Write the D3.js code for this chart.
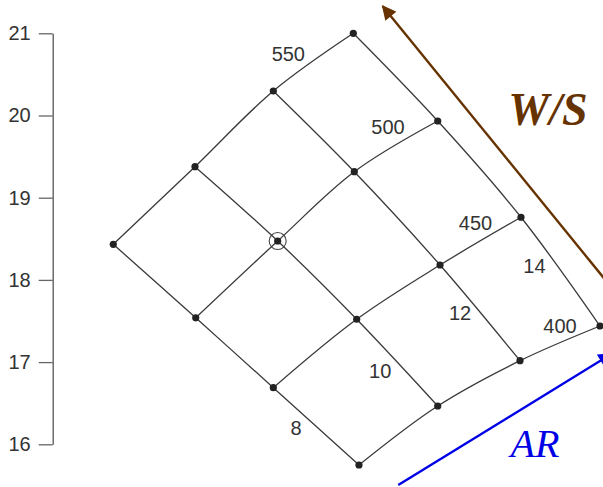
<!DOCTYPE html>
<html>
<head>
<meta charset="utf-8">
<script src="https://cdn.jsdelivr.net/npm/d3@7"></script>
<style>
  html, body { margin: 0; padding: 0; background: #fff; }
  svg { display: block; }
</style>
</head>
<body>
<svg id="chart" width="603" height="487"></svg>
<script>
// Carpet plot: wing loading W/S against aspect ratio AR
const arValues = [8, 10, 12, 14];
const wsValues = [550, 500, 450, 400];

// Ordinate value of each node, one row per W/S, one column per AR
const yValues = [
  [18.433, 19.377, 20.298, 21.000],   // W/S 550
  [17.539, 18.473, 19.316, 19.933],   // W/S 500
  [16.689, 17.521, 18.181, 18.762],   // W/S 450
  [15.748, 16.466, 17.017, 17.439]    // W/S 400
];
// Cheater (staggered) abscissa of each node
const xValues = [
  [0.737, 1.731, 2.684, 3.657],
  [1.740, 2.737, 3.669, 4.684],
  [2.684, 3.698, 4.712, 5.697],
  [3.726, 4.684, 5.685, 6.658]
];
const yTicks = [16, 17, 18, 19, 20, 21];
// Design point marked with a ring
const designPoint = { ws: 500, ar: 10 };

const svg = d3.select("#chart");

const y = d3.scaleLinear().domain([16, 21]).range([444.3, 33.3]);
const x = d3.scaleLinear().domain([0, 7]).range([52.7, 52.7 + 7 * 82.2]);

// Left axis
const yAxis = d3.axisLeft(y).tickValues(yTicks).tickFormat(d3.format("d"))
  .tickSize(14).tickPadding(8).tickSizeOuter(0);
const gAxis = svg.append("g").attr("transform", `translate(${x(0)},0)`).call(yAxis);
gAxis.select(".domain").attr("stroke", "#555").attr("stroke-width", 1.3);
gAxis.selectAll(".tick line").attr("stroke", "#666").attr("stroke-width", 1.3);
gAxis.selectAll(".tick text")
  .attr("fill", "#333")
  .style("font-family", "'Liberation Sans', Arial, sans-serif")
  .style("font-size", "20px");

// Nodes
const nodes = [];
wsValues.forEach((ws, i) => arValues.forEach((ar, j) => {
  nodes.push({ ws, ar, i, j, x: xValues[i][j], y: yValues[i][j] });
}));

const line = d3.line()
  .x(d => x(d.x)).y(d => y(d.y))
  .curve(d3.curveCatmullRom.alpha(0.5));

const gGrid = svg.append("g").attr("fill", "none").attr("stroke", "#3a3a3a").attr("stroke-width", 1.3);

// Constant W/S lines (AR varies along them)
wsValues.forEach((ws, i) => {
  gGrid.append("path").attr("d", line(nodes.filter(n => n.i === i)));
});
// Constant AR lines (W/S varies along them)
arValues.forEach((ar, j) => {
  gGrid.append("path").attr("d", line(nodes.filter(n => n.j === j)));
});

svg.append("g").selectAll("circle.node").data(nodes).join("circle")
  .attr("class", "node")
  .attr("cx", d => x(d.x)).attr("cy", d => y(d.y))
  .attr("r", 3.6).attr("fill", "#222");

const dp = nodes.find(n => n.ws === designPoint.ws && n.ar === designPoint.ar);
svg.append("circle")
  .attr("cx", x(dp.x)).attr("cy", y(dp.y)).attr("r", 8.5)
  .attr("fill", "none").attr("stroke", "#444").attr("stroke-width", 1.1);

// Line labels, placed beside the last segment of each line
const labelFont = "'Liberation Sans', Arial, sans-serif";
const wsLabelOffset = [[-25, -8], [-8, -19], [-5, -18], [0, -17]];
const arLabelOffset = [[-20, 2], [-17, 8], [-20, 0], [-26, -6]];

function segMid(a, b) {
  return [(x(a.x) + x(b.x)) / 2, (y(a.y) + y(b.y)) / 2];
}
const gLab = svg.append("g")
  .style("font-family", labelFont).style("font-size", "20px")
  .attr("fill", "#333").attr("text-anchor", "middle");

wsValues.forEach((ws, i) => {
  const row = nodes.filter(n => n.i === i);
  const [mx, my] = segMid(row[2], row[3]);
  gLab.append("text")
    .attr("x", mx + wsLabelOffset[i][0]).attr("y", my + wsLabelOffset[i][1])
    .attr("dy", "0.35em").text(ws);
});
arValues.forEach((ar, j) => {
  const col = nodes.filter(n => n.j === j);
  const [mx, my] = segMid(col[2], col[3]);
  gLab.append("text")
    .attr("x", mx + arLabelOffset[j][0]).attr("y", my + arLabelOffset[j][1])
    .attr("dy", "0.35em").text(ar);
});

// Direction arrows
const defs = svg.append("defs");
function marker(id, color) {
  defs.append("marker")
    .attr("id", id).attr("viewBox", "0 0 10 10")
    .attr("refX", 9).attr("refY", 5)
    .attr("markerWidth", 6.5).attr("markerHeight", 6)
    .attr("markerUnits", "strokeWidth")
    .attr("orient", "auto")
    .append("path").attr("d", "M0,0 L10,5 L0,10 Z").attr("fill", color);
}
const wsColor = "#663300", arColor = "#0000e6";
marker("arrWS", wsColor);
marker("arrAR", arColor);

svg.append("line")
  .attr("x1", x(6.78)).attr("y1", y(17.93))
  .attr("x2", x(4.015)).attr("y2", y(21.33))
  .attr("stroke", wsColor).attr("stroke-width", 2.4)
  .attr("marker-end", "url(#arrWS)");

svg.append("line")
  .attr("x1", x(4.204)).attr("y1", y(15.505))
  .attr("x2", x(6.80)).attr("y2", y(17.10))
  .attr("stroke", arColor).attr("stroke-width", 2.4)
  .attr("marker-end", "url(#arrAR)");

svg.append("text")
  .attr("x", 548).attr("y", 125)
  .attr("text-anchor", "middle")
  .style("font-family", "'Liberation Serif', 'DejaVu Serif', serif")
  .style("font-style", "italic").style("font-weight", "bold")
  .style("font-size", "46px")
  .attr("fill", wsColor).text("W/S");

svg.append("text")
  .attr("x", 535).attr("y", 457)
  .attr("text-anchor", "middle")
  .style("font-family", "'Liberation Serif', 'DejaVu Serif', serif")
  .style("font-style", "italic")
  .style("font-size", "40px")
  .attr("fill", arColor).text("AR");
</script>
</body>
</html>
